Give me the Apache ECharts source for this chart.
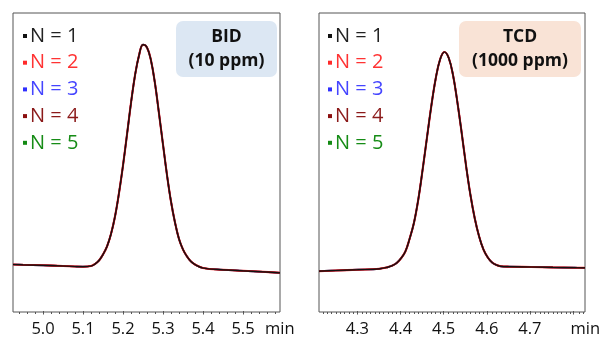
<!DOCTYPE html>
<html>
<head>
<meta charset="utf-8">
<script src="https://cdn.jsdelivr.net/npm/echarts@6/dist/echarts.min.js"></script>
<style>
  html, body { margin: 0; padding: 0; background: #fff; }
  #chart { width: 603px; height: 338px; }
</style>
</head>
<body>
<div id="chart"></div>
<script>
// 重复进样 N = 1..5
var runNames = ['N = 1', 'N = 2', 'N = 3', 'N = 4', 'N = 5']
var runColors = ['#111111', '#ff2a2a', '#3030ff', '#8b0f0f', '#138a13']
var labelColors = ['#222222', '#ff3333', '#4545ff', '#8b1a1a', '#168c16']

// BID (10 ppm)，时间 min
var bidTime = [4.925, 4.95, 5.00, 5.05, 5.08, 5.10, 5.12, 5.13, 5.14, 5.15, 5.16, 5.17, 5.18, 5.19, 5.20,
  5.21, 5.22, 5.23, 5.24, 5.25, 5.26, 5.27, 5.28, 5.29, 5.30, 5.31, 5.32, 5.33, 5.34, 5.35, 5.36, 5.37,
  5.38, 5.40, 5.45, 5.50, 5.55, 5.5925]
var bidSignal = [47.5, 47.2, 46.7, 46.0, 45.5, 45.3, 46.0, 48.0, 51.5, 57.5, 65.5, 78, 95.5, 119, 146.5,
  177.5, 209, 236.5, 256.5, 267.3, 264.5, 251.5, 228.5, 198.5, 167.5, 137, 110.5, 89.5, 73, 62.5, 55.5, 50.5,
  47.5, 44.0, 42.2, 41.2, 40.2, 39.2]

// TCD (1000 ppm)
var tcdTime = [4.211, 4.25, 4.30, 4.35, 4.37, 4.38, 4.39, 4.40, 4.41, 4.42, 4.43, 4.44, 4.45, 4.46, 4.47,
  4.48, 4.49, 4.50, 4.51, 4.52, 4.53, 4.54, 4.55, 4.56, 4.57, 4.58, 4.59, 4.60, 4.61, 4.62, 4.63, 4.65,
  4.70, 4.75, 4.80, 4.824]
var tcdSignal = [40.8, 41.5, 42.3, 43.2, 44.9, 46.4, 49, 53.7, 60.5, 73.5, 89.5, 113, 143, 175, 206.5,
  233.5, 252.5, 260, 254, 236.5, 209.5, 178.5, 146, 117, 93.5, 75.5, 62.5, 54.5, 49.5, 47, 45.7, 45.3,
  45, 44.6, 44.3, 44.2]

// 刻度
var bidMajorTicks = [5.0, 5.1, 5.2, 5.3, 5.4, 5.5]
var bidMinorTicks = [4.94, 4.96, 4.98, 5.02, 5.04, 5.06, 5.08, 5.12, 5.14, 5.16, 5.18, 5.22, 5.24, 5.26, 5.28,
  5.32, 5.34, 5.36, 5.38, 5.42, 5.44, 5.46, 5.48, 5.52, 5.54, 5.56, 5.58]
var tcdMajorTicks = [4.3, 4.4, 4.5, 4.6, 4.7, 4.8]
var tcdTickLabels = [4.3, 4.4, 4.5, 4.6, 4.7]
var tcdMinorTicks = [4.22, 4.23, 4.24, 4.25, 4.26, 4.27, 4.28, 4.29, 4.31, 4.32, 4.33, 4.34, 4.35, 4.36, 4.37,
  4.38, 4.39, 4.41, 4.42, 4.43, 4.44, 4.45, 4.46, 4.47, 4.48, 4.49, 4.51, 4.52, 4.53, 4.54, 4.55, 4.56, 4.57,
  4.58, 4.59, 4.61, 4.62, 4.63, 4.64, 4.65, 4.66, 4.67, 4.68, 4.69, 4.71, 4.72, 4.73, 4.74, 4.75, 4.76, 4.77,
  4.78, 4.79, 4.81, 4.82]

var fontFamily = 'Open Sans'
var frameColor = '#555555'

var myChart = echarts.init(document.getElementById('chart'))

// 叠放顺序：绿、蓝、红、暗红、黑（黑线在最上）
var drawOrder = [4, 2, 1, 3, 0]
var lineWidths = [1.2, 2.1, 1.7, 1.6, 1.7]

function pairs(xs, ys) {
  return xs.map(function (x, i) { return [x, ys[i]] })
}

function makeSeries(xAxisIndex, yAxisIndex, xs, ys) {
  return drawOrder.map(function (k) {
    return {
      name: runNames[k],
      type: 'line',
      xAxisIndex: xAxisIndex,
      yAxisIndex: yAxisIndex,
      data: pairs(xs, ys),
      smooth: 0.4,
      showSymbol: false,
      color: runColors[k],
      itemStyle: { color: runColors[k] },
      lineStyle: { width: lineWidths[k], color: runColors[k] }
    }
  })
}

function minorAxis(gridIndex, min, max, ticks) {
  return {
    type: 'value', gridIndex: gridIndex, min: min, max: max, position: 'bottom',
    axisLine: { show: false },
    splitLine: { show: false },
    axisLabel: { show: false },
    axisTick: { show: true, length: 2, customValues: ticks, lineStyle: { color: frameColor } }
  }
}

function majorAxis(gridIndex, min, max, ticks, labels, nameGap) {
  return {
    type: 'value', gridIndex: gridIndex, min: min, max: max, position: 'bottom',
    name: 'min', nameLocation: 'end', nameGap: nameGap,
    nameTextStyle: { fontSize: 16.5, fontFamily: fontFamily, color: '#111', align: 'left', verticalAlign: 'top', padding: [10, 0, 0, 0] },
    axisLine: { show: false },
    splitLine: { show: false },
    axisTick: { show: true, length: 3.5, customValues: ticks, lineStyle: { color: frameColor } },
    axisLabel: {
      customValues: labels, margin: 10, fontSize: 16.5, fontFamily: fontFamily, color: '#111',
      formatter: function (v) { return v.toFixed(1) }
    }
  }
}

function hiddenY(gridIndex) {
  return { type: 'value', gridIndex: gridIndex, min: 0, max: 299, show: false }
}

function legendFor(left) {
  return {
    orient: 'vertical', left: left, top: 26, padding: 0,
    icon: 'rect', itemWidth: 4, itemHeight: 4, itemGap: 6.7,
    selectedMode: false,
    textStyle: { fontSize: 20, fontFamily: fontFamily, lineHeight: 20, padding: [0, 0, 0, -2] },
    data: runNames.map(function (n, i) {
      return { name: n, textStyle: { color: labelColors[i] } }
    })
  }
}

function labelBox(x, y, w, h, fill, text) {
  return {
    type: 'group',
    children: [{
      type: 'rect', shape: { x: x, y: y, width: w, height: h, r: 7 },
      style: { fill: fill }
    }, {
      type: 'text', x: x + w / 2, y: y + h / 2,
      style: {
        text: text, fill: '#111', font: 'bold 17.5px "Open Sans"',
        align: 'center', verticalAlign: 'middle', lineHeight: 24
      }
    }]
  }
}

var option = {
  animation: false,
  backgroundColor: '#fff',
  grid: [
    // 0,1 左图 (数据 + 主刻度)
    { left: 13, top: 13, width: 267, height: 299, show: true, borderColor: frameColor, borderWidth: 1 },
    { left: 13, top: 13, width: 267, height: 299 },
    // 2,3 右图
    { left: 319, top: 13, width: 266, height: 299, show: true, borderColor: frameColor, borderWidth: 1 },
    { left: 319, top: 13, width: 266, height: 299 }
  ],
  xAxis: [
    minorAxis(0, 4.925, 5.5925, bidMinorTicks),
    majorAxis(1, 4.925, 5.5925, bidMajorTicks, bidMajorTicks, -15),
    minorAxis(2, 4.211, 4.824, tcdMinorTicks),
    majorAxis(3, 4.211, 4.824, tcdMajorTicks, tcdTickLabels, -13)
  ],
  yAxis: [hiddenY(0), hiddenY(1), hiddenY(2), hiddenY(3)],
  legend: [legendFor(23), legendFor(328)],
  graphic: [
    labelBox(176, 21, 101, 56, '#dce7f3', 'BID\n(10 ppm)'),
    labelBox(459, 21, 122, 56, '#f9e3d6', 'TCD\n(1000 ppm)')
  ],
  series: makeSeries(0, 0, bidTime, bidSignal).concat(makeSeries(2, 2, tcdTime, tcdSignal))
}

myChart.setOption(option, true)
</script>
</body>
</html>
